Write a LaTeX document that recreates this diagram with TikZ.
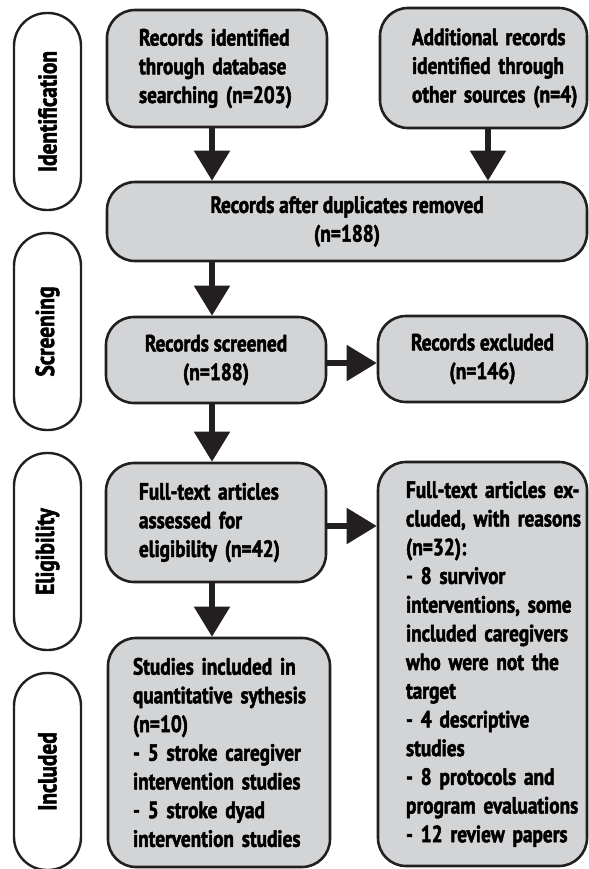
\documentclass[tikz,border=0pt]{standalone}
\usepackage{fontspec}
\setmainfont{PT Sans}[FakeStretch=0.82, BoldFeatures={FakeBold=2}]
\usepackage{tikz}
\usetikzlibrary{positioning,arrows.meta,calc}
\definecolor{boxgray}{RGB}{211,212,214}
\definecolor{inkblack}{RGB}{35,31,32}
\tikzset{
  flowbox/.style={draw=inkblack, fill=boxgray, line width=1.3pt,
    rounded corners=14pt, inner ysep=0pt,
    font=\bfseries\fontsize{11.75}{14.35}\selectfont},
  leftbox/.style={align=left, inner xsep=2pt,
    execute at begin node={\leftskip=#1\hyphenpenalty=10000}},
  stagepill/.style={draw=inkblack, line width=1.2pt, rounded corners=16.5pt,
    rotate=90, minimum width=98.5pt, minimum height=33.5pt, inner sep=0pt,
    font=\bfseries\fontsize{13}{15}\selectfont},
  flowarrow/.style={draw=inkblack, line width=2.6pt,
    -{Triangle[width=17.5pt,length=15pt]}}
}

\begin{document}
\begin{tikzpicture}[x=0.5pt,y=-0.5pt]
\useasboundingbox (0,0) rectangle (589,869);
% stage labels
\node[stagepill] (idpill)  at (47.5,111.5) {Identification};
\node[stagepill] (scrpill) at (47.5,331.5) {Screening};
\node[stagepill] (elipill) at (47.5,551.5) {Eligibility};
\node[stagepill] (incpill) at (47.5,771.5) {Included};
% identification
\node[flowbox, leftbox=14pt, minimum width=110pt, minimum height=58.5pt,
  text width=106pt] (recdb) at (217,68.5)
  {Records identified\\through database\\searching (n=203)};
\node[flowbox, leftbox=14pt, minimum width=103.5pt, minimum height=60pt,
  text width=99.5pt] (recother) at (483.5,68)
  {Additional records\\identified through\\other sources (n=4)};
\node[flowbox, minimum width=240pt, minimum height=39.5pt, align=center]
  (dedup) at (347,221.5)
  {Records after duplicates removed\\(n=188)};
% screening
\node[flowbox, minimum width=110pt, minimum height=43pt, align=center]
  (screened) at (216,360) {Records screened\\(n=188)};
\node[flowbox, minimum width=104.5pt, minimum height=43pt, align=center]
  (excluded) at (482.5,359) {Records excluded\\(n=146)};
% eligibility
\node[flowbox, leftbox=14.5pt, minimum width=110pt, minimum height=59.5pt,
  text width=106pt] (fulltext) at (216,522.5)
  {Full-text articles\\assessed for\\eligibility (n=42)};
\node[flowbox, leftbox=12pt, minimum width=104.5pt, minimum height=202pt,
  text width=100.5pt] (ftexcl) at (482.5,664)
  {Full-text articles ex-\\cluded, with reasons\\(n=32):\\- 8 survivor\\
   interventions, some\\included caregivers\\who were not the\\target\\
   - 4 descriptive\\studies\\- 8 protocols and\\program evaluations\\
   - 12 review papers};
% included
\node[flowbox, leftbox=10.5pt, minimum width=111pt, minimum height=114.5pt,
  text width=107pt] (studies) at (219,752.5)
  {Studies included in\\quantitative sythesis\\(n=10)\\
   - 5 stroke caregiver\\intervention studies\\- 5 stroke dyad\\
   intervention studies};
% connectors
\draw[flowarrow] ([xshift=-2.5pt]recdb.south) -- ([xshift=-2.5pt]recdb.south |- dedup.north);
\draw[flowarrow] ([xshift=2.25pt]recother.south) -- ([xshift=2.25pt]recother.south |- dedup.north);
\draw[flowarrow] ([xshift=-2pt]screened.north |- dedup.south) -- ([xshift=-2pt]screened.north);
\draw[flowarrow] ([xshift=-2pt]screened.south) -- ([xshift=-2pt]screened.south |- fulltext.north);
\draw[flowarrow] ([xshift=-2pt]fulltext.south) -- ([xshift=-2pt]fulltext.south |- studies.north);
\draw[flowarrow] ([yshift=-1.5pt]screened.east) -- ([yshift=-1.5pt]screened.east -| excluded.west);
\draw[flowarrow] ([yshift=-1.75pt]fulltext.east) -- ([yshift=-1.75pt]fulltext.east -| ftexcl.west);
\end{tikzpicture}
\end{document}
